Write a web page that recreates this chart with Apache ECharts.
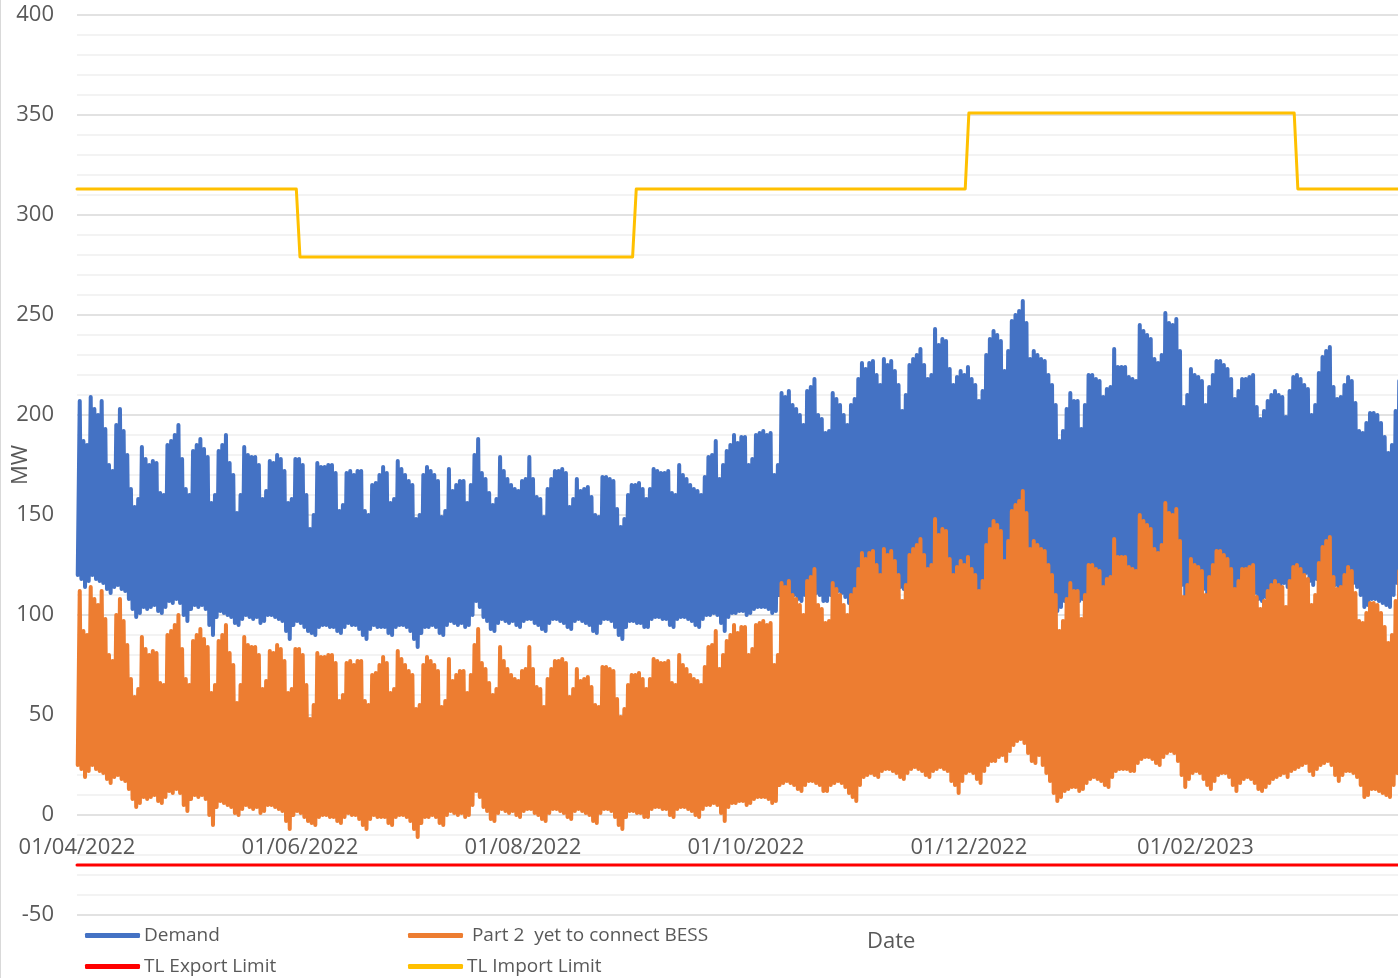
<!DOCTYPE html>
<html>
<head>
<meta charset="utf-8">
<title>Demand vs TL limits</title>
<script src="https://cdn.jsdelivr.net/npm/echarts@6.0.0/dist/echarts.min.js"></script>
<style>
  html, body { margin: 0; padding: 0; background: #fff; }
  #main { width: 1398px; height: 978px; }
</style>
</head>
<body>
<div id="main"></div>
<script>
// one value per day starting 01/04/2022 (rows are weeks, Fri..Thu)
// daily peak and overnight low, MW
var demandPeak = [
  207,187,185,209,203,200,207, 193,175,172,195,203,192,180, 163,154,158,184,178,175,177,
  176,161,160,185,187,190,195, 178,163,160,182,185,188,183, 179,156,160,182,185,190,176,
  170,151,160,184,180,179,179, 175,158,162,177,176,180,178, 172,156,158,178,178,175,160,
  143,150,176,174,174,175,175, 171,152,155,171,172,170,172, 172,152,150,165,166,170,174,
  171,156,158,177,173,170,167, 165,148,150,170,174,172,170, 167,149,152,173,162,165,167,
  167,156,165,180,188,171,168, 161,155,158,179,172,168,165, 163,162,167,168,179,168,159,
  158,149,163,168,172,172,173, 171,154,158,168,162,163,164, 159,150,149,169,169,168,167,
  153,144,148,160,165,165,166, 163,158,163,173,172,171,171, 172,161,160,175,170,168,165,
  163,162,160,169,179,180,187, 168,175,182,185,190,186,189, 189,175,178,190,191,192,190,
  191,170,175,211,209,212,205, 203,200,195,212,214,218,200, 198,191,192,211,208,205,200,
  195,205,208,218,226,223,226, 227,220,215,228,225,227,222, 215,202,210,225,228,230,233,
  225,218,220,243,235,238,237, 223,215,219,222,220,224,218, 215,207,212,230,238,242,240,
  237,222,232,247,250,252,257, 246,228,232,230,228,227,220, 215,205,187,192,203,211,207,
  207,193,205,220,220,218,217, 209,213,214,233,224,224,224, 219,218,217,245,242,240,238,
  228,226,230,251,246,245,248, 232,204,210,223,220,219,217, 205,214,220,227,227,225,223,
  218,208,212,218,218,219,220, 204,198,202,207,210,212,210, 209,199,212,219,220,218,215,
  213,200,205,221,229,232,234, 214,208,209,215,219,217,206, 192,191,196,201,201,200,196,
  189,181,185,202,217
];
var demandLow = [
  120,118,114,117,120,118,117, 116,113,111,114,115,113,112, 108,103,99,101,104,103,104,
  105,102,101,104,107,106,108, 106,100,97,103,105,104,105, 103,95,90,99,102,101,100,
  99,96,95,98,100,99,98, 99,96,97,100,100,99,98, 97,92,88,95,97,96,94,
  92,91,90,94,95,95,94, 94,92,91,94,96,95,95, 93,90,88,93,95,94,94,
  94,91,90,94,95,95,94, 92,88,84,91,94,94,95, 94,91,90,95,97,96,95,
  96,94,95,100,107,104,99, 97,93,92,96,98,97,96, 97,95,94,97,98,98,96,
  95,93,92,96,98,98,97, 96,94,93,97,98,97,96, 95,92,91,96,98,98,97,
  94,90,88,94,97,97,96, 96,94,94,98,99,99,98, 98,95,94,98,99,99,98,
  97,95,94,98,100,100,101, 100,96,92,99,101,101,102, 102,100,101,103,104,104,104,
  103,101,102,110,111,112,111, 110,108,107,110,112,112,111, 110,107,107,110,111,112,111,
  109,106,104,102,110,114,115, 116,115,114,117,118,118,117, 116,114,113,116,118,119,118,
  117,115,114,117,118,119,118, 117,112,110,106,112,116,117, 116,113,111,117,120,122,122,
  124,125,122,127,130,132,133, 131,126,122,121,125,120,116, 112,106,102,104,107,108,109,
  109,107,108,111,113,114,113, 112,110,109,114,117,118,118, 118,117,117,121,123,124,124,
  123,121,120,124,126,127,126, 122,115,109,113,116,117,116, 113,110,108,112,115,116,116,
  114,110,107,111,113,114,113, 111,108,107,109,111,113,114, 115,116,114,117,118,119,120,
  121,117,115,118,120,121,122, 120,115,112,115,117,117,116, 114,110,104,105,108,108,107,
  106,105,104,110,116
];
var part2Peak = [
  112,92,90,114,108,105,112, 98,80,77,100,108,97,85, 68,59,63,89,83,80,82,
  81,66,65,90,92,95,100, 83,68,65,87,90,93,88, 84,61,65,87,90,95,81,
  75,56,65,89,85,84,84, 80,63,67,82,81,85,83, 77,61,63,83,83,80,65,
  48,55,81,79,79,80,80, 76,57,60,76,77,75,77, 77,57,55,70,71,75,79,
  76,61,63,82,78,75,72, 70,53,55,75,79,77,75, 72,54,57,78,67,70,72,
  72,61,70,85,93,76,73, 66,60,63,84,77,73,70, 68,67,72,73,84,73,64,
  63,54,68,73,77,77,78, 76,59,63,73,67,68,69, 64,55,54,74,74,73,72,
  58,49,53,65,70,70,71, 68,63,68,78,77,76,76, 77,66,65,80,75,73,70,
  68,67,65,74,84,85,92, 73,80,87,90,95,91,94, 94,80,83,95,96,97,95,
  96,75,80,116,114,117,110, 108,105,100,117,119,123,105, 103,96,97,116,113,110,105,
  100,110,113,123,131,128,131, 132,125,120,133,130,132,127, 120,107,115,130,133,135,138,
  130,123,125,148,140,143,142, 128,120,124,127,125,129,123, 120,112,117,135,143,147,145,
  142,127,137,152,155,157,162, 151,133,137,135,133,132,125, 120,110,92,97,108,116,112,
  112,98,110,125,125,123,122, 114,118,119,138,129,129,129, 124,123,122,150,147,145,143,
  133,131,135,156,151,150,153, 137,109,115,128,125,124,122, 110,119,125,132,132,130,128,
  123,113,117,123,123,124,125, 109,103,107,112,115,117,115, 114,104,117,124,125,123,120,
  118,105,110,126,134,137,139, 119,113,114,120,124,122,111, 97,96,101,106,106,105,101,
  94,86,90,107,122
];
var part2Low = [
  25,23,19,22,25,23,22, 21,18,16,19,20,18,17, 13,8,4,6,9,8,9,
  10,7,6,9,12,11,13, 11,5,2,8,10,9,10, 8,0,-5,4,7,6,5,
  4,1,0,3,5,4,3, 4,1,2,5,5,4,3, 2,-3,-7,0,2,1,-1,
  -3,-4,-5,-1,0,0,-1, -1,-3,-4,-1,1,0,0, -2,-5,-7,-2,0,-1,-1,
  -1,-4,-5,-1,0,0,-1, -3,-7,-11,-4,-1,-1,0, -1,-4,-5,0,2,1,0,
  1,-1,0,5,12,9,4, 2,-2,-3,1,3,2,1, 2,0,-1,2,3,3,1,
  0,-2,-3,1,3,3,2, 1,-1,-2,2,3,2,1, 0,-3,-4,1,3,3,2,
  -1,-5,-7,-1,2,2,1, 1,-1,-1,3,4,4,3, 3,0,-1,3,4,4,3,
  2,0,-1,3,5,5,6, 5,1,-3,4,6,6,7, 7,5,6,8,9,9,9,
  8,6,7,15,16,17,16, 15,13,12,15,17,17,16, 15,12,12,15,16,17,16,
  14,11,9,7,15,19,20, 21,20,19,22,23,23,22, 21,19,18,21,23,24,23,
  22,20,19,22,23,24,23, 22,17,15,11,17,21,22, 21,18,16,22,25,27,27,
  29,30,27,32,35,37,38, 36,31,27,26,30,25,21, 17,11,7,9,12,13,14,
  14,12,13,16,18,19,18, 17,15,14,19,22,23,23, 23,22,22,26,28,29,29,
  28,26,25,29,31,32,31, 27,20,14,18,21,22,21, 18,15,13,17,20,21,21,
  19,15,12,16,18,19,18, 16,13,12,14,16,18,19, 20,21,19,22,23,24,25,
  26,22,20,23,25,26,27, 25,20,17,20,22,22,21, 19,15,9,10,13,13,12,
  11,10,9,15,21
];

// transmission line limits per month, Apr 2022 .. Mar 2023
var limitMonths = ['01/04/2022','01/05/2022','01/06/2022','01/07/2022','01/08/2022','01/09/2022',
                   '01/10/2022','01/11/2022','01/12/2022','01/01/2023','01/02/2023','01/03/2023'];
var importLimit = [313,313,279,279,279,313,313,313,351,351,351,313];
var exportLimit = [-25,-25,-25,-25,-25,-25,-25,-25,-25,-25,-25,-25];

var tickLabels = ['01/04/2022','01/06/2022','01/08/2022','01/10/2022','01/12/2022','01/02/2023'];
var yTicks = [-50, 0, 50, 100, 150, 200, 250, 300, 350, 400];

var lastDay = 361.4; // chart is cut off on the right around 27/03/2023
var font = 'Open Sans';

function dayOf(s) {
  var p = s.split('/');
  return Math.round((Date.UTC(+p[2], +p[1] - 1, +p[0]) - Date.UTC(2022, 3, 1)) / 86400000);
}

function dailyPoints(low, peak) {
  var pts = [];
  for (var d = 0; d < peak.length; d++) {
    pts.push([d + 0.2, low[d]]);
    pts.push([d + 0.75, peak[d]]);
  }
  return pts;
}

function stepPoints(vals) {
  var pts = [];
  for (var i = 0; i < vals.length; i++) {
    var s = dayOf(limitMonths[i]);
    var e = i + 1 < limitMonths.length ? dayOf(limitMonths[i + 1]) - 1 : lastDay + 1;
    pts.push([s, vals[i]]);
    pts.push([e, vals[i]]);
  }
  return pts;
}

var tickDays = tickLabels.map(dayOf);
var tickText = {};
tickDays.forEach(function (d, i) { tickText[d] = tickLabels[i]; });

var myChart = echarts.init(document.getElementById('main'));

var lineSeries = function (name, color, data, width) {
  return {
    name: name,
    type: 'line',
    data: data,
    symbol: 'none',
    showSymbol: false,
    sampling: null,
    itemStyle: { color: color },
    lineStyle: { color: color, width: width, cap: 'round', join: 'round' },
    emphasis: { disabled: true }
  };
};

var legendBox = function (name, left, top) {
  return {
    data: [name],
    left: left,
    top: top,
    padding: 0,
    icon: 'roundRect',
    itemWidth: 55,
    itemHeight: 5,
    textStyle: { fontFamily: font, fontSize: 19, color: '#595959', padding: [0, 0, 0, -1] }
  };
};

var option = {
  animation: false,
  backgroundColor: '#fff',
  grid: { left: 77, right: 0, top: 15, bottom: 63, containLabel: false, outerBoundsMode: 'none' },
  title: {
    text: 'Date',
    left: 867,
    top: 931,
    padding: 0,
    textStyle: { fontFamily: font, fontSize: 22, fontWeight: 'normal', color: '#595959' }
  },
  legend: [
    legendBox('Demand', 85, 926),
    legendBox(' Part 2  yet to connect BESS', 408, 926),
    legendBox('TL Export Limit', 85, 957),
    legendBox('TL Import Limit', 408, 957)
  ],
  xAxis: {
    type: 'value',
    min: 0,
    max: lastDay,
    position: 'bottom',
    // the date labels sit on the 0 MW line, 50 MW (100px) above the grid bottom
    offset: -100,
    axisLine: { show: false, onZero: false },
    axisTick: { show: false },
    splitLine: { show: false },
    axisLabel: {
      customValues: tickDays,
      formatter: function (v) { return tickText[Math.round(v)] || ''; },
      margin: 22,
      fontFamily: font,
      fontSize: 22,
      color: '#595959'
    }
  },
  yAxis: {
    type: 'value',
    min: yTicks[0],
    max: yTicks[yTicks.length - 1],
    interval: 50,
    name: 'MW',
    nameLocation: 'middle',
    nameRotate: 90,
    nameGap: 45,
    nameMoveOverlap: false,
    nameTextStyle: { fontFamily: font, fontSize: 22, color: '#595959' },
    axisLine: { show: false, onZero: false },
    axisTick: { show: false },
    axisLabel: { margin: 23, fontFamily: font, fontSize: 22, color: '#595959' },
    splitLine: { lineStyle: { color: '#d9d9d9', width: 1.5 } },
    minorTick: { show: false, splitNumber: 5 },
    minorSplitLine: { show: true, lineStyle: { color: '#f0f0f0', width: 1.5 } }
  },
  graphic: [{
    type: 'line',
    shape: { x1: 0.5, y1: 0, x2: 0.5, y2: 978 },
    style: { stroke: '#d9d9d9', lineWidth: 1 }
  }],
  series: [
    lineSeries('Demand', '#4472C4', dailyPoints(demandLow, demandPeak), 4),
    lineSeries(' Part 2  yet to connect BESS', '#ED7D31', dailyPoints(part2Low, part2Peak), 4),
    lineSeries('TL Export Limit', '#FF0000', stepPoints(exportLimit), 3),
    lineSeries('TL Import Limit', '#FFC000', stepPoints(importLimit), 3)
  ]
};

myChart.setOption(option);
</script>
</body>
</html>
